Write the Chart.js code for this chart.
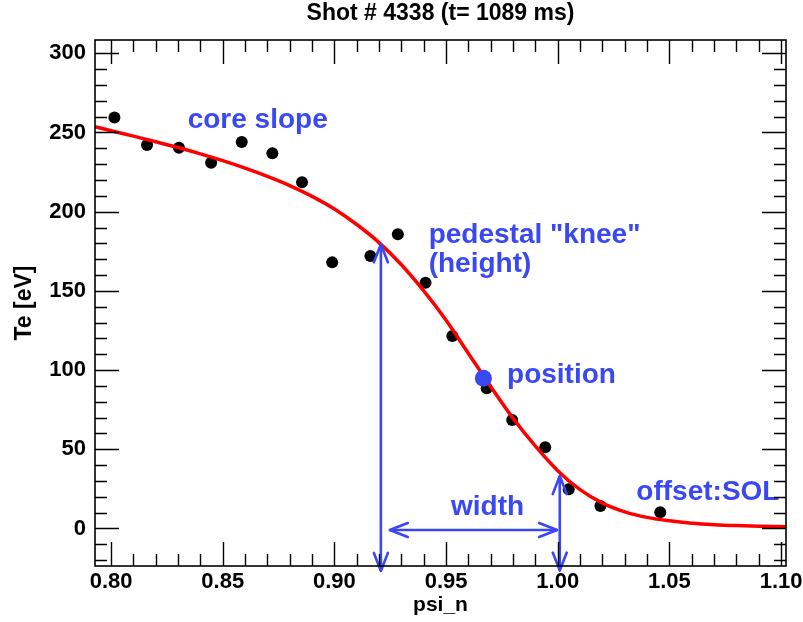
<!DOCTYPE html>
<html><head><meta charset="utf-8">
<script src="https://cdn.jsdelivr.net/npm/chart.js@4/dist/chart.umd.min.js"></script>
<style>html,body{margin:0;padding:0;background:#fff;}canvas{display:block;}</style>
</head><body>
<canvas id="c" width="803" height="622"></canvas>
<script>
// ---------- data ----------
const titleText = 'Shot # 4338 (t= 1089 ms)';
const xAxisTitle = 'psi_n';
const yAxisTitle = 'Te [eV]';
const xTicks = [0.80, 0.85, 0.90, 0.95, 1.00, 1.05, 1.10];
const yTicks = [0, 50, 100, 150, 200, 250, 300];
const xRange = [0.7928, 1.1022];
const yRange = [-23.7, 308.4];
const xMinorStep = 0.01;
const yMinorStep = 10;

// measured Te points
const measPsi = [0.8015, 0.8161, 0.8304, 0.8448, 0.8585, 0.8722, 0.8855, 0.8990, 0.9161, 0.9284, 0.9408, 0.9528, 0.9682, 0.9796, 0.9944, 1.0049, 1.0191, 1.0459];
const measTe  = [259.4, 242.1, 240.4, 230.9, 244.0, 236.9, 218.6, 168.0, 172.0, 185.7, 155.2, 121.5, 88.5, 68.5, 51.3, 24.7, 14.2, 10.2];

// fitted curve
const fitPsi = [0.7928, 0.80, 0.81, 0.82, 0.83, 0.84, 0.85, 0.86, 0.87, 0.88, 0.89, 0.90, 0.91, 0.92, 0.93, 0.94, 0.95, 0.96, 0.97, 0.98, 0.99, 1.00, 1.01, 1.02, 1.03, 1.04, 1.05, 1.06, 1.07, 1.08, 1.09, 1.1022];
const fitTe  = [253.7, 251.1, 247.7, 244.2, 240.5, 236.5, 232.2, 227.5, 222.3, 216.5, 209.7, 201.7, 191.9, 180.5, 166.5, 150.0, 131.5, 110.5, 89.5, 69.5, 52.0, 36.5, 24.5, 16.0, 10.5, 7.0, 4.8, 3.3, 2.4, 1.8, 1.4, 1.1];

// pedestal position marker
const posPsi = [0.9667];
const posTe  = [94.8];

// double-headed arrows: [start, end]
const heightArrowPsi = [0.9208, 0.9208];
const heightArrowTe  = [-26.8, 179.4];
const sideArrowPsi   = [1.0009, 1.0009];
const sideArrowTe    = [-26.6, 33.1];
const widthArrowPsi  = [0.9248, 0.9997];
const widthArrowTe   = [-1.0, -1.0];

// annotation labels
const noteText = ['core slope', 'pedestal "knee"', '(height)', 'position', 'width', 'offset:SOL'];
const notePsi  = [0.8343, 0.9422, 0.9422, 0.9773, 0.9522, 1.0352];
const noteTe   = [252.7, 180.4, 162.1, 92.0, 8.5, 18.0];

// ---------- styles ----------
const FONT = "'Liberation Sans', Arial, Helvetica, sans-serif";
const BLUE = '#3a48f4';
const pts = (xs, ys) => xs.map((x, i) => ({x: x, y: ys[i]}));

const arrowSets = [
  {psi: heightArrowPsi, te: heightArrowTe},
  {psi: sideArrowPsi, te: sideArrowTe},
  {psi: widthArrowPsi, te: widthArrowTe}
];

const idlPlugin = {
  id: 'idl',
  afterDatasetsDraw(chart) {
    const {ctx, scales: {x, y}} = chart;
    ctx.save();
    ctx.strokeStyle = BLUE;
    ctx.lineWidth = 2.6;
    ctx.lineCap = 'round';
    ctx.lineJoin = 'round';
    const L = 18, W = 7;
    arrowSets.forEach(s => {
      const p0 = {x: x.getPixelForValue(s.psi[0]), y: y.getPixelForValue(s.te[0])};
      const p1 = {x: x.getPixelForValue(s.psi[1]), y: y.getPixelForValue(s.te[1])};
      [[p0, p1], [p1, p0]].forEach(([tip, from]) => {
        const dx = tip.x - from.x, dy = tip.y - from.y;
        const len = Math.hypot(dx, dy);
        const ux = dx / len, uy = dy / len;
        const bx = tip.x - ux * L, by = tip.y - uy * L;
        ctx.beginPath();
        ctx.moveTo(bx - uy * W, by + ux * W);
        ctx.lineTo(tip.x, tip.y);
        ctx.lineTo(bx + uy * W, by - ux * W);
        ctx.stroke();
      });
    });
    ctx.fillStyle = BLUE;
    ctx.font = "bold 28px " + FONT;
    ctx.textAlign = 'left';
    ctx.textBaseline = 'alphabetic';
    noteText.forEach((t, i) => {
      ctx.fillText(t, x.getPixelForValue(notePsi[i]), y.getPixelForValue(noteTe[i]));
    });
    ctx.restore();
  },
  afterDraw(chart) {
    const {ctx, chartArea: a, scales: {x, y}} = chart;
    ctx.save();
    ctx.strokeStyle = '#000';
    ctx.lineWidth = 1.4;
    const MAJ = 24, MIN = 12;
    ctx.beginPath();
    const x0 = Math.ceil(xRange[0] / xMinorStep - 1e-6);
    const x1 = Math.floor(xRange[1] / xMinorStep + 1e-6);
    for (let k = x0; k <= x1; k++) {
      const v = k * xMinorStep;
      const major = xTicks.some(t => Math.abs(t - v) < 1e-6);
      const len = major ? MAJ : MIN;
      const px = Math.round(x.getPixelForValue(v)) + 0.5;
      ctx.moveTo(px, a.bottom); ctx.lineTo(px, a.bottom - len);
      ctx.moveTo(px, a.top); ctx.lineTo(px, a.top + len);
    }
    const y0 = Math.ceil(yRange[0] / yMinorStep - 1e-6);
    const y1 = Math.floor(yRange[1] / yMinorStep + 1e-6);
    for (let k = y0; k <= y1; k++) {
      const v = k * yMinorStep;
      const major = yTicks.some(t => Math.abs(t - v) < 1e-6);
      const len = major ? MAJ : MIN;
      const py = Math.round(y.getPixelForValue(v)) + 0.5;
      ctx.moveTo(a.left, py); ctx.lineTo(a.left + len, py);
      ctx.moveTo(a.right, py); ctx.lineTo(a.right - len, py);
    }
    ctx.stroke();
    ctx.lineWidth = 1.6;
    ctx.strokeRect(a.left, a.top, a.right - a.left, a.bottom - a.top);
    ctx.restore();
  }
};

const tickFont = {family: FONT, size: 22, weight: 'bold'};

new Chart(document.getElementById('c'), {
  type: 'scatter',
  data: {
    datasets: [
      {label: 'position', data: pts(posPsi, posTe), pointRadius: 8.5, pointHoverRadius: 8.5,
       backgroundColor: BLUE, borderWidth: 0, order: 0},
      {label: 'height', data: pts(heightArrowPsi, heightArrowTe), showLine: true, borderColor: BLUE,
       borderWidth: 2.6, pointRadius: 0, clip: false, order: 1},
      {label: 'side', data: pts(sideArrowPsi, sideArrowTe), showLine: true, borderColor: BLUE,
       borderWidth: 2.6, pointRadius: 0, clip: false, order: 1},
      {label: 'width', data: pts(widthArrowPsi, widthArrowTe), showLine: true, borderColor: BLUE,
       borderWidth: 2.6, pointRadius: 0, clip: false, order: 1},
      {label: 'fit', data: pts(fitPsi, fitTe), showLine: true, borderColor: '#ff0000',
       borderWidth: 3.5, pointRadius: 0, cubicInterpolationMode: 'monotone', order: 2},
      {label: 'Te', data: pts(measPsi, measTe), pointRadius: 6, pointHoverRadius: 6,
       backgroundColor: '#000', borderWidth: 0, order: 3}
    ]
  },
  options: {
    responsive: false,
    animation: false,
    devicePixelRatio: 1,
    layout: {padding: {left: 0, right: 17, top: 0, bottom: 0}},
    plugins: {
      legend: {display: false},
      tooltip: {enabled: false},
      title: {display: true, text: titleText, fullSize: false, color: '#000',
              font: {family: FONT, size: 23, weight: 'bold'}, padding: {top: 0, bottom: 12.4}}
    },
    scales: {
      x: {
        type: 'linear', min: xRange[0], max: xRange[1],
        grid: {display: false, drawTicks: false}, border: {display: false},
        afterBuildTicks: s => { s.ticks = xTicks.map(v => ({value: v})); },
        ticks: {callback: v => Number(v).toFixed(2), font: tickFont, color: '#000', padding: 3,
                maxRotation: 0, autoSkip: false},
        title: {display: true, text: xAxisTitle, color: '#000', font: {family: FONT, size: 21, weight: 'bold'},
                padding: {top: 0, bottom: 4.4}},
        afterFit: s => { s.height = 56; s.paddingLeft = 0; s.paddingRight = 0; }
      },
      y: {
        type: 'linear', min: yRange[0], max: yRange[1],
        grid: {display: false, drawTicks: false}, border: {display: false},
        afterBuildTicks: s => { s.ticks = yTicks.map(v => ({value: v})); },
        ticks: {callback: v => String(v), font: tickFont, color: '#000', padding: 9, autoSkip: false},
        title: {display: true, text: yAxisTitle, color: '#000', font: {family: FONT, size: 23, weight: 'bold'},
                padding: {top: 11.2, bottom: 0}},
        afterFit: s => { s.width = 95; s.paddingTop = 0; s.paddingBottom = 0; }
      }
    }
  },
  plugins: [idlPlugin]
});
</script>
</body></html>
